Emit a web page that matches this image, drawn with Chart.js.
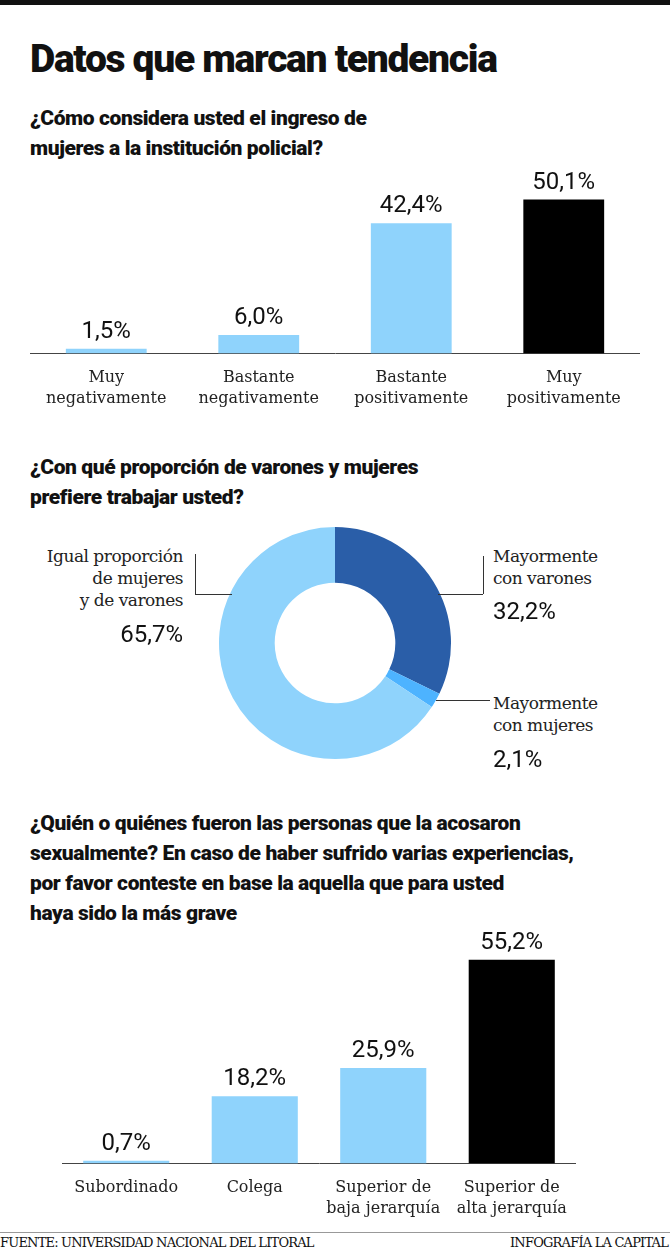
<!DOCTYPE html>
<html><head><meta charset="utf-8">
<script src="https://cdn.jsdelivr.net/npm/chart.js@4"></script>
<style>
body{margin:0;width:670px;height:1248px;background:#fff;position:relative;font-family:Roboto,sans-serif;overflow:hidden}
.abs{position:absolute}
h1{position:absolute;left:30px;top:36px;margin:0;font:900 39px Roboto;letter-spacing:-1.3px;color:#111}
.q{position:absolute;left:30px;margin:0;font:900 21px/30px Roboto;letter-spacing:-0.4px;color:#111;white-space:nowrap}
.lbl{position:absolute;font:17px/22px "DejaVu Serif",serif;color:#222;letter-spacing:-0.5px}
.val{position:absolute;font:24px Roboto;color:#111}
.ln{position:absolute;background:#333}
</style></head><body>
<div class="abs" style="left:0;top:0;width:670px;height:5px;background:#111"></div>
<h1>Datos que marcan tendencia</h1>
<p class="q" style="top:103px">¿Cómo considera usted el ingreso de<br>mujeres a la institución policial?</p>
<div class="abs" style="left:30px;top:160px;width:610px;height:255px"><canvas id="c1"></canvas></div>

<p class="q" style="top:452px">¿Con qué proporción de varones y mujeres<br>prefiere trabajar usted?</p>
<div class="abs" style="left:215px;top:523px;width:240px;height:240px"><canvas id="c2"></canvas></div>
<div class="lbl" style="left:30px;top:545px;width:153px;text-align:right">Igual proporción<br>de mujeres<br>y de varones</div>
<div class="val" style="left:100px;top:620px;width:83px;text-align:right">65,7%</div>
<div class="ln" style="left:195px;top:554px;width:1px;height:40px"></div>
<div class="ln" style="left:195px;top:594px;width:37px;height:1px"></div>
<div class="lbl" style="left:493px;top:545px">Mayormente<br>con varones</div>
<div class="val" style="left:493px;top:597px">32,2%</div>
<div class="ln" style="left:483px;top:556px;width:1px;height:38px"></div>
<div class="ln" style="left:438px;top:594px;width:45px;height:1px"></div>
<div class="lbl" style="left:493px;top:692px">Mayormente<br>con mujeres</div>
<div class="val" style="left:493px;top:745px">2,1%</div>
<div class="ln" style="left:436px;top:700px;width:54px;height:1px"></div>

<p class="q" style="top:808px">¿Quién o quiénes fueron las personas que la acosaron<br>sexualmente? En caso de haber sufrido varias experiencias,<br>por favor conteste en base la aquella que para usted<br>haya sido la más grave</p>
<div class="abs" style="left:62px;top:920px;width:514px;height:305px"><canvas id="c3"></canvas></div>

<div class="abs" style="left:0;top:1232px;width:670px;height:1px;background:#999"></div>
<div class="abs" style="left:0;top:1235px;font:13px 'DejaVu Serif',serif;letter-spacing:-0.8px;color:#111">FUENTE: UNIVERSIDAD NACIONAL DEL LITORAL</div>
<div class="abs" style="right:2px;top:1235px;font:13px 'DejaVu Serif',serif;letter-spacing:-0.8px;color:#111">INFOGRAFÍA LA CAPITAL</div>
<script>
const LIGHT = '#8fd3fc', DARK = '#2a5ea8', MID = '#4db3ff', BLACK = '#000';

const q1Labels = [['Muy', 'negativamente'], ['Bastante', 'negativamente'], ['Bastante', 'positivamente'], ['Muy', 'positivamente']];
const q1Values = [1.5, 6.0, 42.4, 50.1];
const q1Colors = [LIGHT, LIGHT, LIGHT, BLACK];

const q2Labels = ['Mayormente con varones', 'Mayormente con mujeres', 'Igual proporción de mujeres y de varones'];
const q2Values = [32.2, 2.1, 65.7];
const q2Colors = [DARK, MID, LIGHT];

const q3Labels = ['Subordinado', 'Colega', ['Superior de', 'baja jerarquía'], ['Superior de', 'alta jerarquía']];
const q3Values = [0.7, 18.2, 25.9, 55.2];
const q3Colors = [LIGHT, LIGHT, LIGHT, BLACK];

const fmt = v => v.toFixed(1).replace('.', ',') + '%';

// etiquetas de valor encima de cada barra
const valueLabels = {
  id: 'valueLabels',
  afterDatasetsDraw(chart) {
    const ctx = chart.ctx;
    const meta = chart.getDatasetMeta(0);
    ctx.save();
    ctx.font = '24px Roboto';
    ctx.fillStyle = '#111';
    ctx.textAlign = 'center';
    ctx.textBaseline = 'bottom';
    meta.data.forEach((bar, i) => {
      ctx.fillText(fmt(chart.data.datasets[0].data[i]), bar.x, bar.y - 5);
    });
    ctx.restore();
  }
};

function barChart(id, labels, values, colors, max, barPct) {
  return new Chart(document.getElementById(id), {
    type: 'bar',
    data: { labels, datasets: [{ data: values, backgroundColor: colors, barPercentage: barPct, categoryPercentage: 1 }] },
    options: {
      responsive: true, maintainAspectRatio: false, animation: false,
      plugins: { legend: { display: false }, tooltip: { enabled: false } },
      scales: {
        x: {
          grid: { display: false },
          border: { display: true, color: '#444', width: 1 },
          ticks: { color: '#222', font: { family: "'DejaVu Serif', serif", size: 16, lineHeight: 1.3 }, padding: 6, maxRotation: 0, autoSkip: false }
        },
        y: { display: false, min: 0, max }
      }
    },
    plugins: [valueLabels]
  });
}

barChart('c1', q1Labels, q1Values, q1Colors, 63, 0.53);

new Chart(document.getElementById('c2'), {
  type: 'doughnut',
  data: { labels: q2Labels, datasets: [{ data: q2Values, backgroundColor: q2Colors, borderWidth: 0 }] },
  options: {
    responsive: true, maintainAspectRatio: false, animation: false, cutout: '52%',
    layout: { padding: 4 },
    plugins: { legend: { display: false }, tooltip: { enabled: false } }
  }
});

barChart('c3', q3Labels, q3Values, q3Colors, 66, 0.67);
</script>
</body></html>
